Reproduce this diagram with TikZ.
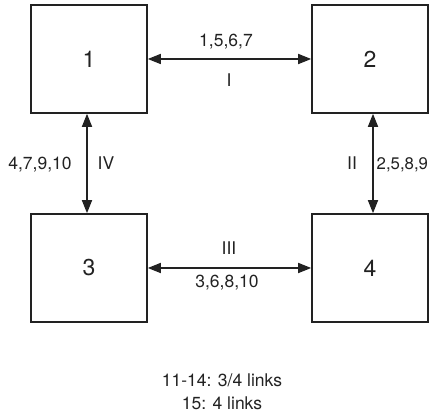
\documentclass[tikz,border=0pt]{standalone}
\usepackage{fontspec}
\setmainfont{TeX Gyre Heros}
\usetikzlibrary{arrows.meta}
\definecolor{ink}{HTML}{222222}
\begin{document}
\begin{tikzpicture}[x=1pt,y=-1pt,
  boxnode/.style={draw=ink,line width=1.6pt,minimum width=116pt,minimum height=108pt,inner sep=0pt,font=\fontsize{23}{27}\selectfont,text=ink},
  lbl/.style={anchor=base,inner sep=0pt,font=\fontsize{17.5}{21}\selectfont,text=ink},
  link/.style={draw=ink,line width=1.6pt,{Triangle[length=13pt,width=10pt]}-{Triangle[length=13pt,width=10pt]}}]
\useasboundingbox (0,0) rectangle (429,419);
\node[boxnode] (b1) at (89,59) {1};
\node[boxnode] (b2) at (370,59) {2};
\node[boxnode] (b3) at (89,268) {3};
\node[boxnode] (b4) at (370,268) {4};
\draw[link] (b1.east) -- (b2.west);
\draw[link] (b3.east) -- (b4.west);
\draw[link] ([xshift=-2pt]b1.south) -- ([xshift=-2pt]b3.north);
\draw[link] ([xshift=3pt]b2.south) -- ([xshift=3pt]b4.north);
\node[lbl] (l1) at (226,47) {1,5,6,7};
\node[lbl] (r1) at (229,87) {I};
\node[lbl] (l4) at (40,170) {4,7,9,10};
\node[lbl] (r4) at (106,170) {IV};
\node[lbl] (r2) at (352,170) {II};
\node[lbl,anchor=base west,font=\fontsize{16.8}{20}\selectfont] (l2) at (376.5,170) {2,5,8,9};
\node[lbl] (r3) at (229,255) {III};
\node[lbl] (l3) at (227,288) {3,6,8,10};
\node[lbl] (n1) at (222,387) {11-14: 3/4 links};
\node[lbl] (n2) at (222,410) {15: 4 links};
\end{tikzpicture}
\end{document}
